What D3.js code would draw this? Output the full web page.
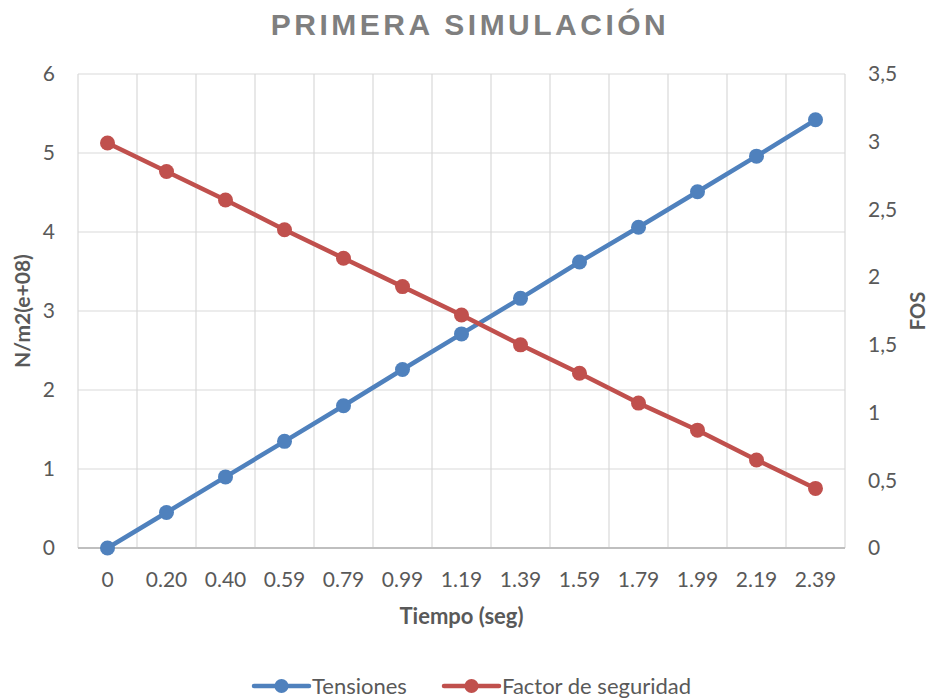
<!DOCTYPE html>
<html>
<head>
<meta charset="utf-8">
<script src="https://cdn.jsdelivr.net/npm/d3@7"></script>
<style>
  html, body { margin: 0; padding: 0; background: #fff; }
  svg { display: block; font-family: Lato, "Open Sans", sans-serif; }
</style>
</head>
<body>
<svg id="chart" width="930" height="698"></svg>
<script>
// Time steps (s) shown on the category axis
const tiempos = ["0", "0.20", "0.40", "0.59", "0.79", "0.99", "1.19", "1.39", "1.59", "1.79", "1.99", "2.19", "2.39"];
// Stress, N/m2 (x 1e8) — left axis
const tensiones = [0, 0.45, 0.90, 1.35, 1.80, 2.26, 2.71, 3.16, 3.62, 4.06, 4.51, 4.96, 5.42];
// Factor of safety — right axis
const factorSeguridad = [2.99, 2.78, 2.57, 2.35, 2.14, 1.93, 1.72, 1.50, 1.29, 1.07, 0.87, 0.65, 0.44];
const leftTicks = [0, 1, 2, 3, 4, 5, 6];
const rightTicks = [0, 0.5, 1, 1.5, 2, 2.5, 3, 3.5];

const svg = d3.select("#chart");
const margin = { left: 78, right: 85, top: 74, bottom: 150 };
const W = 930, H = 698;
const plotW = W - margin.left - margin.right;
const plotH = H - margin.top - margin.bottom;

const x = d3.scaleBand().domain(tiempos).range([margin.left, margin.left + plotW]);
const yL = d3.scaleLinear().domain([0, 6]).range([margin.top + plotH, margin.top]);
const yR = d3.scaleLinear().domain([0, 3.5]).range([margin.top + plotH, margin.top]);

const blue = "#4f81bd", red = "#c0504d";
const gridColor = "#d9d9d9", textColor = "#595959";
const tickFont = "21px";

// Horizontal gridlines
svg.append("g").selectAll("line").data(leftTicks).join("line")
  .attr("x1", margin.left).attr("x2", margin.left + plotW)
  .attr("y1", d => yL(d)).attr("y2", d => yL(d))
  .attr("stroke", gridColor).attr("stroke-width", 1.2);

// Vertical gridlines at category boundaries
const bounds = tiempos.map(t => x(t)).concat([x(tiempos[tiempos.length - 1]) + x.bandwidth()]);
svg.append("g").selectAll("line").data(bounds).join("line")
  .attr("x1", d => d).attr("x2", d => d)
  .attr("y1", margin.top).attr("y2", margin.top + plotH)
  .attr("stroke", gridColor).attr("stroke-width", 1.2);

// Category axis line
svg.append("line")
  .attr("x1", margin.left).attr("x2", margin.left + plotW)
  .attr("y1", yL(0)).attr("y2", yL(0))
  .attr("stroke", "#bfbfbf").attr("stroke-width", 2.2);

function styleTicks(g) {
  g.select(".domain").remove();
  g.selectAll("text").attr("fill", textColor)
    .style("font-size", tickFont).style("font-family", "Lato, 'Open Sans', sans-serif");
}

// Left axis labels
svg.append("g").attr("transform", `translate(${margin.left},0)`)
  .call(d3.axisLeft(yL).tickValues(leftTicks).tickSize(0).tickPadding(23).tickFormat(d3.format("d")))
  .call(styleTicks);

// Right axis labels (comma decimal)
svg.append("g").attr("transform", `translate(${margin.left + plotW},0)`)
  .call(d3.axisRight(yR).tickValues(rightTicks).tickSize(0).tickPadding(23)
    .tickFormat(d => String(d).replace(".", ",")))
  .call(styleTicks);

// Category axis labels
svg.append("g").attr("transform", `translate(0,${yL(0)})`)
  .call(d3.axisBottom(x).tickSize(0).tickPadding(24))
  .call(styleTicks);

// Series
const cx = t => x(t) + x.bandwidth() / 2;
function drawSeries(values, scale, color) {
  const pts = tiempos.map((t, i) => [cx(t), scale(values[i])]);
  svg.append("path").datum(pts)
    .attr("d", d3.line())
    .attr("fill", "none").attr("stroke", color)
    .attr("stroke-width", 4.5).attr("stroke-linejoin", "round").attr("stroke-linecap", "round");
  svg.append("g").selectAll("circle").data(pts).join("circle")
    .attr("cx", d => d[0]).attr("cy", d => d[1]).attr("r", 7.5).attr("fill", color);
}
drawSeries(tensiones, yL, blue);
drawSeries(factorSeguridad, yR, red);

// Title
svg.append("text")
  .attr("x", 470).attr("y", 35).attr("text-anchor", "middle")
  .attr("fill", "#7f7f7f")
  .style("font-family", "'Liberation Sans Narrow', 'Liberation Sans', sans-serif")
  .style("font-size", "30px").style("font-weight", "bold").style("letter-spacing", "3.5px")
  .text("PRIMERA SIMULACIÓN");

// Axis titles
svg.append("text")
  .attr("transform", `translate(30,${margin.top + plotH / 2}) rotate(-90)`)
  .attr("text-anchor", "middle").attr("fill", textColor)
  .style("font-size", "21px").style("font-weight", "bold")
  .text("N/m2(e+08)");
svg.append("text")
  .attr("transform", `translate(925,${margin.top + plotH / 2}) rotate(-90)`)
  .attr("text-anchor", "middle").attr("fill", textColor)
  .style("font-size", "20px").style("font-weight", "bold")
  .text("FOS");
svg.append("text")
  .attr("x", margin.left + plotW / 2).attr("y", 624).attr("text-anchor", "middle")
  .attr("fill", textColor)
  .style("font-size", "22px").style("font-weight", "bold")
  .text("Tiempo (seg)");

// Legend
const legend = [
  { name: "Tensiones", color: blue, x: 254 },
  { name: "Factor de seguridad", color: red, x: 444 }
];
const lg = svg.append("g").selectAll("g").data(legend).join("g")
  .attr("transform", d => `translate(${d.x},686)`);
lg.append("line").attr("x1", 0).attr("x2", 55).attr("y1", 0).attr("y2", 0)
  .attr("stroke", d => d.color).attr("stroke-width", 4.5).attr("stroke-linecap", "round");
lg.append("circle").attr("cx", 27.5).attr("cy", 0).attr("r", 7).attr("fill", d => d.color);
lg.append("text").attr("x", 58).attr("y", 7.5).attr("fill", textColor)
  .style("font-size", "22px").text(d => d.name);
</script>
</body>
</html>
